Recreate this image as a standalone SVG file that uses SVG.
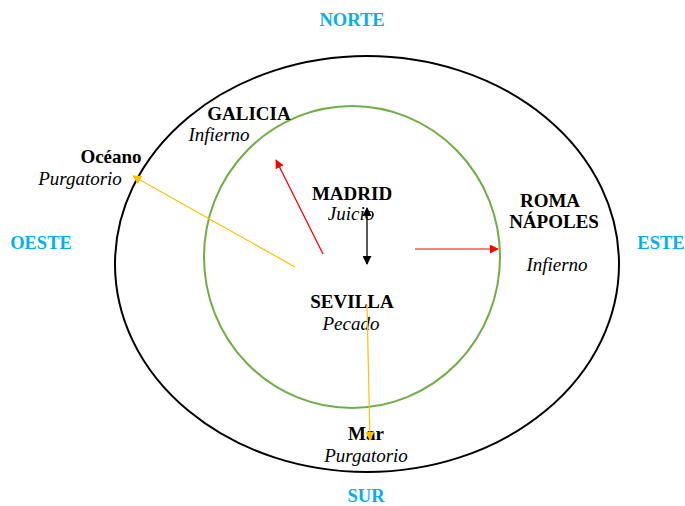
<svg xmlns="http://www.w3.org/2000/svg" width="685" height="506" viewBox="0 0 685 506">
<style>
.dir{font-family:"Liberation Serif",serif;font-weight:bold;font-size:18.5px;fill:#00B0F0}
.b{font-family:"Liberation Serif",serif;font-weight:bold;font-size:19px;fill:#000}
.i{font-family:"Liberation Serif",serif;font-style:italic;font-size:19px;fill:#000}
.red{stroke:#FF0000;stroke-width:1.2;fill:none}
.yel{stroke:#FFC000;stroke-width:1.2;fill:none}
.blk{stroke:#000;stroke-width:1.3;fill:none}
</style>
<defs>
<marker id="mr" viewBox="0 0 10 10" refX="9" refY="5" markerWidth="9" markerHeight="9" markerUnits="userSpaceOnUse" orient="auto"><path d="M0,0 L10,5 L0,10 z" fill="#FF0000"/></marker>
<marker id="my" viewBox="0 0 10 10" refX="9" refY="5" markerWidth="9" markerHeight="9" markerUnits="userSpaceOnUse" orient="auto"><path d="M0,0 L10,5 L0,10 z" fill="#FFC000"/></marker>
<marker id="mb" viewBox="0 0 10 10" refX="9" refY="5" markerWidth="9" markerHeight="9" markerUnits="userSpaceOnUse" orient="auto-start-reverse"><path d="M0,0 L10,5 L0,10 z" fill="#000"/></marker>
</defs>
<rect width="685" height="506" fill="#fff"/>
<g id="outer"><ellipse cx="367" cy="264" rx="252" ry="208" fill="none" stroke="#000" stroke-width="2"/></g>
<g id="inner"><ellipse cx="352" cy="257" rx="148" ry="151" fill="none" stroke="#70AD47" stroke-width="2"/></g>
<g id="directions">
<text class="dir" x="352" y="26" text-anchor="middle">NORTE</text>
<text class="dir" x="41" y="249" text-anchor="middle">OESTE</text>
<text class="dir" x="661" y="249" text-anchor="middle">ESTE</text>
<text class="dir" x="366" y="502" text-anchor="middle">SUR</text>
</g>
<g id="galicia"><text class="b" x="249" y="120" text-anchor="middle">GALICIA</text><text class="i" x="219" y="141" text-anchor="middle">Infierno</text></g>
<g id="oceano"><text class="b" x="111" y="163" text-anchor="middle">Océano</text><text class="i" x="80" y="185" text-anchor="middle">Purgatorio</text></g>
<g id="madrid"><text class="b" x="352" y="200" text-anchor="middle">MADRID</text><text class="i" x="351" y="220" text-anchor="middle">Juicio</text></g>
<g id="roma"><text class="b" x="550" y="207" text-anchor="middle">ROMA</text><text class="b" x="554" y="228" text-anchor="middle">NÁPOLES</text><text class="i" x="557" y="271" text-anchor="middle">Infierno</text></g>
<g id="sevilla"><text class="b" x="352" y="308" text-anchor="middle">SEVILLA</text><text class="i" x="351" y="330" text-anchor="middle">Pecado</text></g>
<g id="mar"><text class="b" x="366" y="440" text-anchor="middle">Mar</text><text class="i" x="366" y="462" text-anchor="middle">Purgatorio</text></g>
<g id="connectors">
<line class="blk" x1="367" y1="264" x2="367" y2="208" marker-start="url(#mb)" marker-end="url(#mb)"/>
<line class="red" x1="323" y1="254" x2="276" y2="160" marker-end="url(#mr)"/>
<line class="red" x1="415" y1="249" x2="498" y2="249" marker-end="url(#mr)"/>
<line class="yel" x1="295" y1="267" x2="133" y2="176" marker-end="url(#my)"/>
<line class="yel" x1="367" y1="305" x2="370" y2="440" marker-end="url(#my)"/>
</g>
</svg>
